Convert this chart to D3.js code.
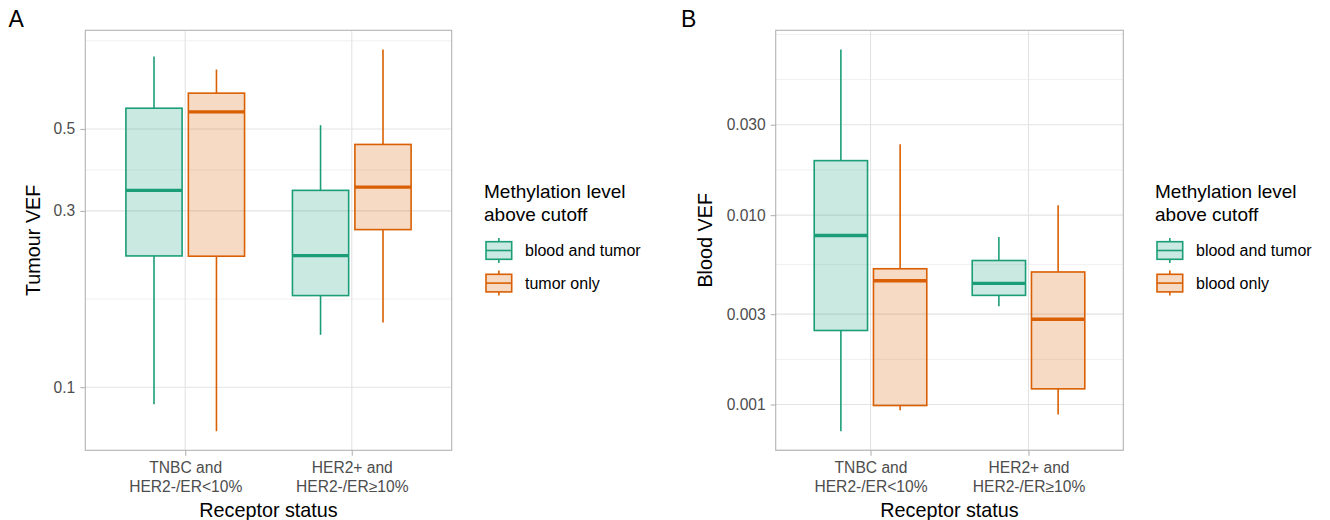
<!DOCTYPE html>
<html>
<head>
<meta charset="utf-8">
<script src="https://cdn.jsdelivr.net/npm/d3@7"></script>
<style>
  body { margin: 0; background: #fff; }
  svg { font-family: "Liberation Sans", Arial, Helvetica, sans-serif; }
</style>
</head>
<body>
<svg id="chart" width="1330" height="520"></svg>
<script>
// ---------------- data ----------------
const categories = ["TNBC and\nHER2-/ER<10%", "HER2+ and\nHER2-/ER≥10%"];

// box stats per category: [lower whisker, Q1, median, Q3, upper whisker]
const tumourBloodAndTumor = [[0.0899, 0.2266, 0.341, 0.569, 0.786], [0.1386, 0.177, 0.227, 0.341, 0.512]];
const tumourTumorOnly     = [[0.076, 0.2262, 0.556, 0.625, 0.724], [0.1497, 0.267, 0.348, 0.454, 0.821]];

const bloodBloodAndTumor  = [[0.000723, 0.00246, 0.00781, 0.0194, 0.0750], [0.0033, 0.00377, 0.00436, 0.00576, 0.00766]];
const bloodBloodOnly      = [[0.000933, 0.000988, 0.0045, 0.00521, 0.02367], [0.000886, 0.00121, 0.00282, 0.00501, 0.01129]];

const tumourTicks = [0.1, 0.3, 0.5];
const tumourTickLabels = ["0.1", "0.3", "0.5"];
const bloodTicks = [0.001, 0.003, 0.01, 0.03];
const bloodTickLabels = ["0.001", "0.003", "0.010", "0.030"];

const legendTitle = ["Methylation level", "above cutoff"];
const tumourGroups = ["blood and tumor", "tumor only"];
const bloodGroups = ["blood and tumor", "blood only"];
const colors = ["#1B9E77", "#D95F02"];

// ---------------- drawing ----------------
const svg = d3.select("#chart");

function panel(cfg) {
  const { left, right, top, bottom, series, ticks, tickLabels, yTitle, yTitleX, tag, tagX, groups, legendX } = cfg;
  const g = svg.append("g");

  // y scale: log with 5% expansion (in log space)
  const all = series.flat(2);
  const lmin = Math.log10(d3.min(all)), lmax = Math.log10(d3.max(all));
  const ex = (lmax - lmin) * 0.05;
  const y = d3.scaleLog().domain([Math.pow(10, lmin - ex), Math.pow(10, lmax + ex)]).range([bottom, top]);
  const x = d3.scalePoint().domain(categories).range([left, right]).padding(0.6);
  const step = x.step();

  // minor breaks (midpoints in log space, with ggplot-style extension)
  const lt = ticks.map(Math.log10);
  const bd = lt[1] - lt[0];
  const ext = [lt[0] - bd, ...lt, lt[lt.length - 1] + bd];
  const minors = [];
  for (let i = 0; i < ext.length - 1; i++) { minors.push(ext[i + 1]); minors.push((ext[i] + ext[i + 1]) / 2); }
  minors.push(ext[0]);
  const [d0, d1] = y.domain();
  const minorVals = minors.map(v => Math.pow(10, v)).filter(v => v > d0 && v < d1 && !ticks.some(t => Math.abs(Math.log10(t) - Math.log10(v)) < 1e-6));

  g.append("g").selectAll("line").data(minorVals).join("line")
    .attr("x1", left).attr("x2", right)
    .attr("y1", d => y(d)).attr("y2", d => y(d))
    .attr("stroke", "#F0F0F0").attr("stroke-width", 1);

  g.append("g").selectAll("line").data(ticks).join("line")
    .attr("x1", left).attr("x2", right)
    .attr("y1", d => y(d)).attr("y2", d => y(d))
    .attr("stroke", "#E3E3E3").attr("stroke-width", 1.1);

  g.append("g").selectAll("line").data(categories).join("line")
    .attr("x1", d => x(d)).attr("x2", d => x(d))
    .attr("y1", top).attr("y2", bottom)
    .attr("stroke", "#E3E3E3").attr("stroke-width", 1.1);

  // boxes
  const offsets = [-0.1875, 0.1875];
  const bw = 0.3375 * step;
  series.forEach((ser, si) => {
    const col = colors[si];
    const sg = g.append("g");
    const items = categories.map((c, ci) => ({ cx: x(c) + offsets[si] * step, s: ser[ci] }));
    sg.selectAll("line.wu").data(items).join("line").attr("class", "wu")
      .attr("x1", d => d.cx).attr("x2", d => d.cx)
      .attr("y1", d => y(d.s[4])).attr("y2", d => y(d.s[3]))
      .attr("stroke", col).attr("stroke-width", 1.6);
    sg.selectAll("line.wl").data(items).join("line").attr("class", "wl")
      .attr("x1", d => d.cx).attr("x2", d => d.cx)
      .attr("y1", d => y(d.s[1])).attr("y2", d => y(d.s[0]))
      .attr("stroke", col).attr("stroke-width", 1.6);
    sg.selectAll("rect").data(items).join("rect")
      .attr("x", d => d.cx - bw / 2).attr("width", bw)
      .attr("y", d => y(d.s[3])).attr("height", d => y(d.s[1]) - y(d.s[3]))
      .attr("fill", col).attr("fill-opacity", 0.23)
      .attr("stroke", col).attr("stroke-width", 1.6);
    sg.selectAll("line.med").data(items).join("line").attr("class", "med")
      .attr("x1", d => d.cx - bw / 2).attr("x2", d => d.cx + bw / 2)
      .attr("y1", d => y(d.s[2])).attr("y2", d => y(d.s[2]))
      .attr("stroke", col).attr("stroke-width", 3.4);
  });

  // panel border
  g.append("rect").attr("x", left).attr("y", top).attr("width", right - left).attr("height", bottom - top)
    .attr("fill", "none").attr("stroke", "#B3B3B3").attr("stroke-width", 1.1);

  // y axis
  const yAxis = d3.axisLeft(y).tickValues(ticks).tickFormat((d, i) => tickLabels[i]).tickSize(5).tickPadding(5);
  const ya = g.append("g").attr("transform", `translate(${left},0)`).call(yAxis);
  ya.select(".domain").remove();
  ya.selectAll(".tick line").attr("stroke", "#B3B3B3").attr("stroke-width", 1.1);
  ya.selectAll(".tick text").attr("fill", "#4D4D4D").attr("font-size", 15.6).attr("font-family", "Liberation Sans, Arial, sans-serif");

  // x axis
  const xAxis = d3.axisBottom(x).tickSize(5.5).tickFormat("");
  const xa = g.append("g").attr("transform", `translate(0,${bottom})`).call(xAxis);
  xa.select(".domain").remove();
  xa.selectAll(".tick line").attr("stroke", "#B3B3B3").attr("stroke-width", 1.1);
  xa.selectAll(".tick").each(function (d) {
    const t = d3.select(this).append("text").attr("fill", "#4D4D4D").attr("font-size", 15.6)
      .attr("text-anchor", "middle").attr("font-family", "Liberation Sans, Arial, sans-serif");
    d.split("\n").forEach((ln, i) => t.append("tspan").attr("x", 0).attr("y", 23 + i * 18.4).text(ln));
  });

  // axis titles
  g.append("text").attr("x", (left + right) / 2).attr("y", 517).attr("text-anchor", "middle")
    .attr("font-size", 19.8).attr("fill", "#000").text("Receptor status");
  g.append("text").attr("transform", `translate(${yTitleX},${(top + bottom) / 2}) rotate(-90)`)
    .attr("text-anchor", "middle").attr("font-size", 19.8).attr("fill", "#000").text(yTitle);

  // tag
  g.append("text").attr("x", tagX).attr("y", 26.7).attr("font-size", 23).attr("fill", "#000").text(tag);

  // legend
  const lg = g.append("g").attr("transform", `translate(${legendX},0)`);
  lg.selectAll("text.lt").data(legendTitle).join("text").attr("class", "lt")
    .attr("x", 0).attr("y", (d, i) => 198 + i * 23).attr("font-size", 19).attr("fill", "#000").text(d => d);
  groups.forEach((gname, i) => {
    const cy = 250.5 + i * 32.6;
    const kx = 2, kw = 25.7, kh = 17.6;
    const k = lg.append("g");
    k.append("line").attr("x1", kx + kw / 2).attr("x2", kx + kw / 2).attr("y1", cy - kh / 2 - 3.7).attr("y2", cy + kh / 2 + 3.7)
      .attr("stroke", colors[i]).attr("stroke-width", 1.6);
    k.append("rect").attr("x", kx).attr("y", cy - kh / 2).attr("width", kw).attr("height", kh)
      .attr("fill", "#fff");
    k.append("rect").attr("x", kx).attr("y", cy - kh / 2).attr("width", kw).attr("height", kh)
      .attr("fill", colors[i]).attr("fill-opacity", 0.23).attr("stroke", colors[i]).attr("stroke-width", 1.6);
    k.append("line").attr("x1", kx).attr("x2", kx + kw).attr("y1", cy).attr("y2", cy)
      .attr("stroke", colors[i]).attr("stroke-width", 1.6);
    lg.append("text").attr("x", 41).attr("y", cy + 5.8).attr("font-size", 16).attr("fill", "#000").text(gname);
  });
}

panel({
  left: 85.3, right: 451.7, top: 30.3, bottom: 450.3,
  series: [tumourBloodAndTumor, tumourTumorOnly],
  ticks: tumourTicks, tickLabels: tumourTickLabels,
  yTitle: "Tumour VEF", yTitleX: 40, tag: "A", tagX: 8.5,
  groups: tumourGroups, legendX: 484
});

panel({
  left: 775.7, right: 1123.3, top: 30.3, bottom: 450.3,
  series: [bloodBloodAndTumor, bloodBloodOnly],
  ticks: bloodTicks, tickLabels: bloodTickLabels,
  yTitle: "Blood VEF", yTitleX: 712, tag: "B", tagX: 681,
  groups: bloodGroups, legendX: 1155
});
</script>
</body>
</html>
